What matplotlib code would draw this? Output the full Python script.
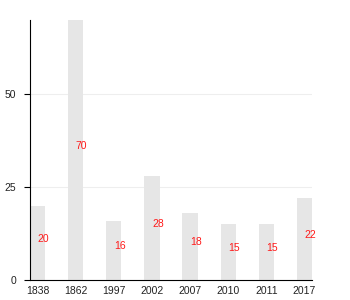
import matplotlib
matplotlib.use("Agg")
import matplotlib.pyplot as plt

categories = ["1838", "1862", "1997", "2002", "2007", "2010", "2011", "2017"]
values = [20, 70, 16, 28, 18, 15, 15, 22]
yticks = [0, 25, 50]

plt.rcParams['font.family'] = ['Liberation Sans', 'DejaVu Sans']

fig = plt.figure(figsize=(3.5, 3.0), dpi=100)
ax = fig.add_axes([30/350, 20/300, 282/350, 260/300])

x = list(range(len(categories)))
ax.bar(x, values, width=0.4, color="#e6e6e6", zorder=2)
for xi, v in zip(x, values):
    ax.annotate(str(v), (xi, v / 2), xytext=(0, 3), textcoords="offset points",
                ha="left", va="center", color="#ff1a1a", fontsize=7.5, zorder=3)

ax.set_xlim(-0.2, len(categories) - 0.8)
ax.set_ylim(0, 70)
ax.set_yticks(yticks)
ax.set_xticks(x)
ax.set_xticklabels(categories)
ax.tick_params(axis="x", length=0, pad=4, labelsize=7.5, colors="#222222")
ax.tick_params(axis="y", length=4, width=0.8, pad=6, labelsize=7.5, colors="#222222")
ax.tick_params(axis="y", color="black")
ax.grid(axis="y", color="#eeeeee", linewidth=0.8, zorder=0)
for s in ["top", "right"]:
    ax.spines[s].set_visible(False)
ax.spines["left"].set_color("black")
ax.spines["bottom"].set_color("black")
ax.spines["left"].set_linewidth(0.8)
ax.spines["bottom"].set_linewidth(0.8)

fig.savefig("out.png", dpi=100)
